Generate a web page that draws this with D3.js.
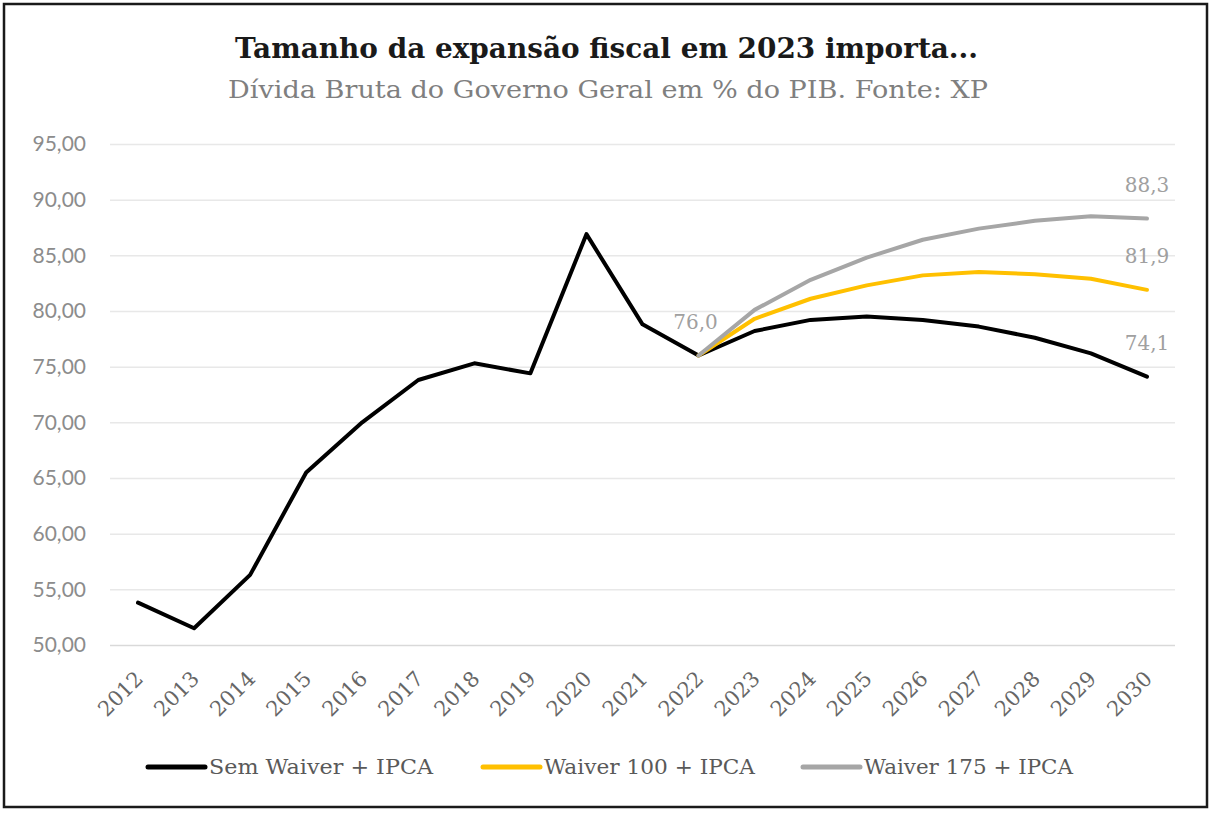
<!DOCTYPE html>
<html>
<head>
<meta charset="utf-8">
<script src="https://cdn.jsdelivr.net/npm/d3@7"></script>
<style>
  html, body { margin: 0; padding: 0; background: #ffffff; }
  svg { display: block; }
</style>
</head>
<body>
<svg id="chart" width="1216" height="820"></svg>
<script>
// ---- data ----
const years = ["2012","2013","2014","2015","2016","2017","2018","2019","2020","2021",
               "2022","2023","2024","2025","2026","2027","2028","2029","2030"];
const semWaiver = [53.8,51.5,56.3,65.5,70.0,73.8,75.3,74.4,86.9,78.8,
                   76.0,78.2,79.2,79.5,79.2,78.6,77.6,76.2,74.1];
const waiver100 = [null,null,null,null,null,null,null,null,null,null,
                   76.0,79.3,81.1,82.3,83.2,83.5,83.3,82.9,81.9];
const waiver175 = [null,null,null,null,null,null,null,null,null,null,
                   76.0,80.1,82.8,84.8,86.4,87.4,88.1,88.5,88.3];
const yTicks = [50,55,60,65,70,75,80,85,90,95];
const seriesNames = ["Sem Waiver + IPCA","Waiver 100 + IPCA","Waiver 175 + IPCA"];
const seriesColors = ["#000000","#FFC000","#A6A6A6"];
const titleText = "Tamanho da expansão fiscal em 2023 importa...";
const subtitleText = "Dívida Bruta do Governo Geral em % do PIB. Fonte: XP";
// annotated labels: [series index, year]
const labelPoints = [[0,"2022"],[2,"2030"],[1,"2030"],[0,"2030"]];

const svg = d3.select("#chart");
const series = [semWaiver, waiver100, waiver175];

// frame
svg.append("rect").attr("x",4).attr("y",4).attr("width",1203).attr("height",803)
  .attr("fill","#fff").attr("stroke","#1a1a1a").attr("stroke-width",2.5);

// titles
svg.append("text").attr("x",235).attr("y",58)
  .attr("font-family","'DejaVu Serif', serif").attr("font-weight","bold")
  .attr("font-size",27).attr("fill","#1a1a1a")
  .attr("textLength",743).attr("lengthAdjust","spacingAndGlyphs")
  .text(titleText);
svg.append("text").attr("x",228).attr("y",98)
  .attr("font-family","'DejaVu Serif', serif")
  .attr("font-size",24).attr("fill","#7f7f7f")
  .attr("textLength",760).attr("lengthAdjust","spacingAndGlyphs")
  .text(subtitleText);

// scales
const x = d3.scalePoint().domain(years).range([110,1175]).padding(0.5);
const y = d3.scaleLinear().domain([50,95]).range([645,144]);

// y grid + labels
const yAxis = d3.axisLeft(y).tickValues(yTicks).tickSize(-(1175-110)).tickPadding(24)
  .tickFormat(d => d3.format(".2f")(d).replace(".", ","));
const gy = svg.append("g").attr("transform","translate(110,0)").call(yAxis);
gy.select(".domain").remove();
gy.selectAll(".tick line").attr("stroke","#e8e8e8").attr("stroke-width",1.5);
gy.selectAll(".tick").filter(d => d === 50).select("line").attr("stroke","#d9d9d9");
gy.selectAll(".tick text").attr("font-family","Lato, 'Open Sans', sans-serif")
  .attr("font-size",21).attr("fill","#8c8c8c");

// x axis labels
const xAxis = d3.axisBottom(x).tickSize(0).tickPadding(0);
const gx = svg.append("g").attr("transform","translate(0,645)").call(xAxis);
gx.select(".domain").remove();
gx.selectAll(".tick text")
  .attr("font-family","'DejaVu Serif', serif").attr("font-size",21).attr("fill","#666666")
  .attr("text-anchor","end").attr("dy",0).attr("y",0)
  .attr("transform","translate(6,35) rotate(-45)");

// lines
const line = d3.line()
  .defined(d => d.v !== null)
  .x(d => x(d.year)).y(d => y(d.v));
series.forEach((vals, i) => {
  const pts = years.map((yr, j) => ({year: yr, v: vals[j]}));
  svg.append("path").datum(pts)
    .attr("fill","none").attr("stroke",seriesColors[i]).attr("stroke-width",4)
    .attr("stroke-linejoin","round").attr("stroke-linecap","round")
    .attr("d",line);
});

// data labels
labelPoints.forEach(([si, yr]) => {
  const v = series[si][years.indexOf(yr)];
  svg.append("text")
    .attr("x", x(yr) + (yr === "2022" ? -3 : 0))
    .attr("y", y(v) - 27)
    .attr("text-anchor","middle")
    .attr("font-family","'DejaVu Serif', serif").attr("font-size",20).attr("fill","#a0a0a0")
    .text(d3.format(".1f")(v).replace(".", ","));
});

// legend
const legX = [148, 483, 803];
const legW = [224, 211, 209];
seriesNames.forEach((name, i) => {
  svg.append("line").attr("x1",legX[i]).attr("x2",legX[i]+57)
    .attr("y1",767).attr("y2",767)
    .attr("stroke",seriesColors[i]).attr("stroke-width",5).attr("stroke-linecap","round");
  svg.append("text").attr("x",legX[i]+61).attr("y",774)
    .attr("font-family","'DejaVu Serif', serif").attr("font-size",21).attr("fill","#595959")
    .attr("textLength",legW[i]).attr("lengthAdjust","spacingAndGlyphs")
    .text(name);
});
</script>
</body>
</html>
